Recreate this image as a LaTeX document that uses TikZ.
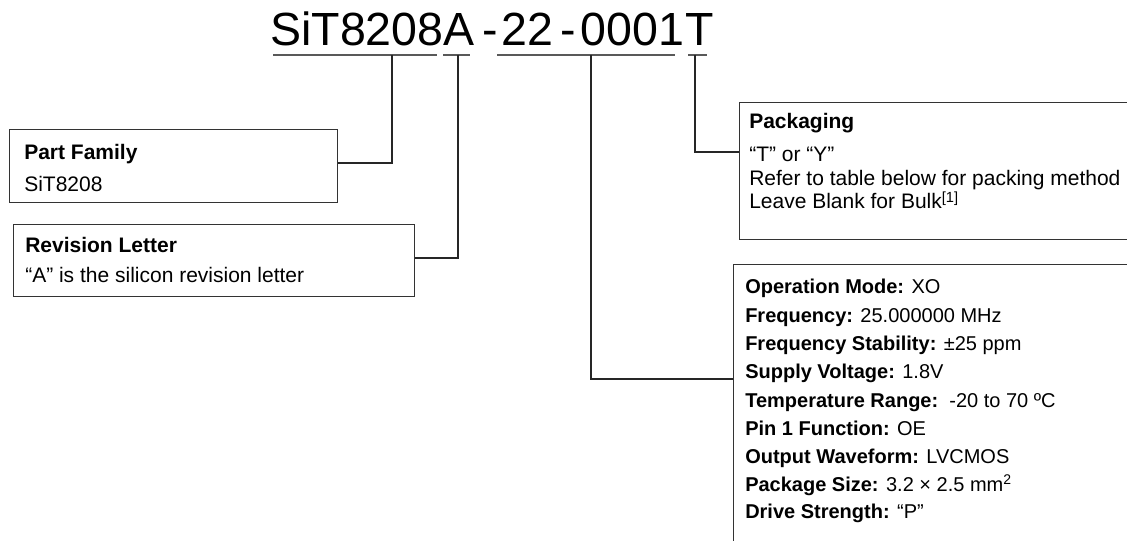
\documentclass[tikz,border=0pt]{standalone}
\usepackage{fontspec}
\setmainfont{Liberation Sans}
\usetikzlibrary{calc}
\begin{document}
\begin{tikzpicture}[x=0.75pt,y=-0.75pt,
  box/.style={draw=black!80,line width=0.8pt,rectangle,inner sep=0pt,anchor=north west},
  conn/.style={draw=black!85,line width=0.8pt},
  uline/.style={draw=black!65,line width=0.8pt},
  txt/.style={anchor=base west,inner sep=0pt,font=\fontsize{15.75}{18}\selectfont},
  stxt/.style={anchor=base west,inner sep=0pt,font=\fontsize{15}{18}\selectfont},
  ttl/.style={anchor=base west,inner sep=0pt,font=\fontsize{34.9}{40}\selectfont}]
\clip (0,0) rectangle (1127,541);
% title
\node[ttl] (title) at (270,46) {SiT8208A\kern5.85pt-\kern3pt22\kern5.1pt-\kern3.4pt0001\kern1.5ptT};
\draw[uline] (273,55) -- (437,55);
\draw[uline] (443,55) -- (470,55);
\draw[uline] (497,55) -- (675,55);
\draw[uline] (688,55) -- (707,55);
\coordinate (u1) at (392,55);
\coordinate (u2) at (458,55);
\coordinate (u3) at (591,55);
\coordinate (u4) at (695,55);
% boxes
\node[box,minimum width=328*0.75pt,minimum height=73*0.75pt] (pf) at (9,129) {};
\node[box,minimum width=401*0.75pt,minimum height=72*0.75pt] (rl) at (13,224) {};
\node[box,minimum width=420*0.75pt,minimum height=137*0.75pt] (pk) at (739,102) {};
\node[box,minimum width=420*0.75pt,minimum height=320*0.75pt] (om) at (733,264) {};
% connectors
\draw[conn] (u1) |- ($(pf.north east)+(0,34)$);
\draw[conn] (u2) |- ($(rl.north east)+(0,34)$);
\draw[conn] (u4) |- ($(pk.north west)+(0,50)$);
\draw[conn] (u3) |- ($(om.north west)+(0,115)$);
% texts
\node[txt] (pf1) at (24,160) {\textbf{Part Family}};
\node[txt] (pf2) at (24,192) {SiT8208};
\node[txt] (rl1) at (25,253) {\textbf{Revision Letter}};
\node[txt] (rl2) at (25,283) {“A” is the silicon revision letter};
\node[txt] (pk1) at (749,129) {\textbf{Packaging}};
\node[txt] (pk2) at (749,162) {“T” or “Y”};
\node[txt] (pk3) at (749,185.5) {Refer to table below for packing method};
\node[txt] (pk4) at (749,209) {Leave Blank for Bulk\textsuperscript{[1]}};
\node[stxt] (om1) at (745,294) {\textbf{Operation Mode:} XO};
\node[stxt] (om2) at (745,322.5) {\textbf{Frequency:} 25.000000 MHz};
\node[stxt] (om3) at (745,350.5) {\textbf{Frequency Stability:} ±25 ppm};
\node[stxt] (om4) at (745,378.5) {\textbf{Supply Voltage:} 1.8V};
\node[stxt] (om5) at (745,407) {\textbf{Temperature Range:}\ \ -20 to 70 ºC};
\node[stxt] (om6) at (745,435) {\textbf{Pin 1 Function:} OE};
\node[stxt] (om7) at (745,463) {\textbf{Output Waveform:} LVCMOS};
\node[stxt] (om8) at (745,491) {\textbf{Package Size:} 3.2 × 2.5 mm\textsuperscript{2}};
\node[stxt] (om9) at (745,518) {\textbf{Drive Strength:} “P”};
\end{tikzpicture}
\end{document}
